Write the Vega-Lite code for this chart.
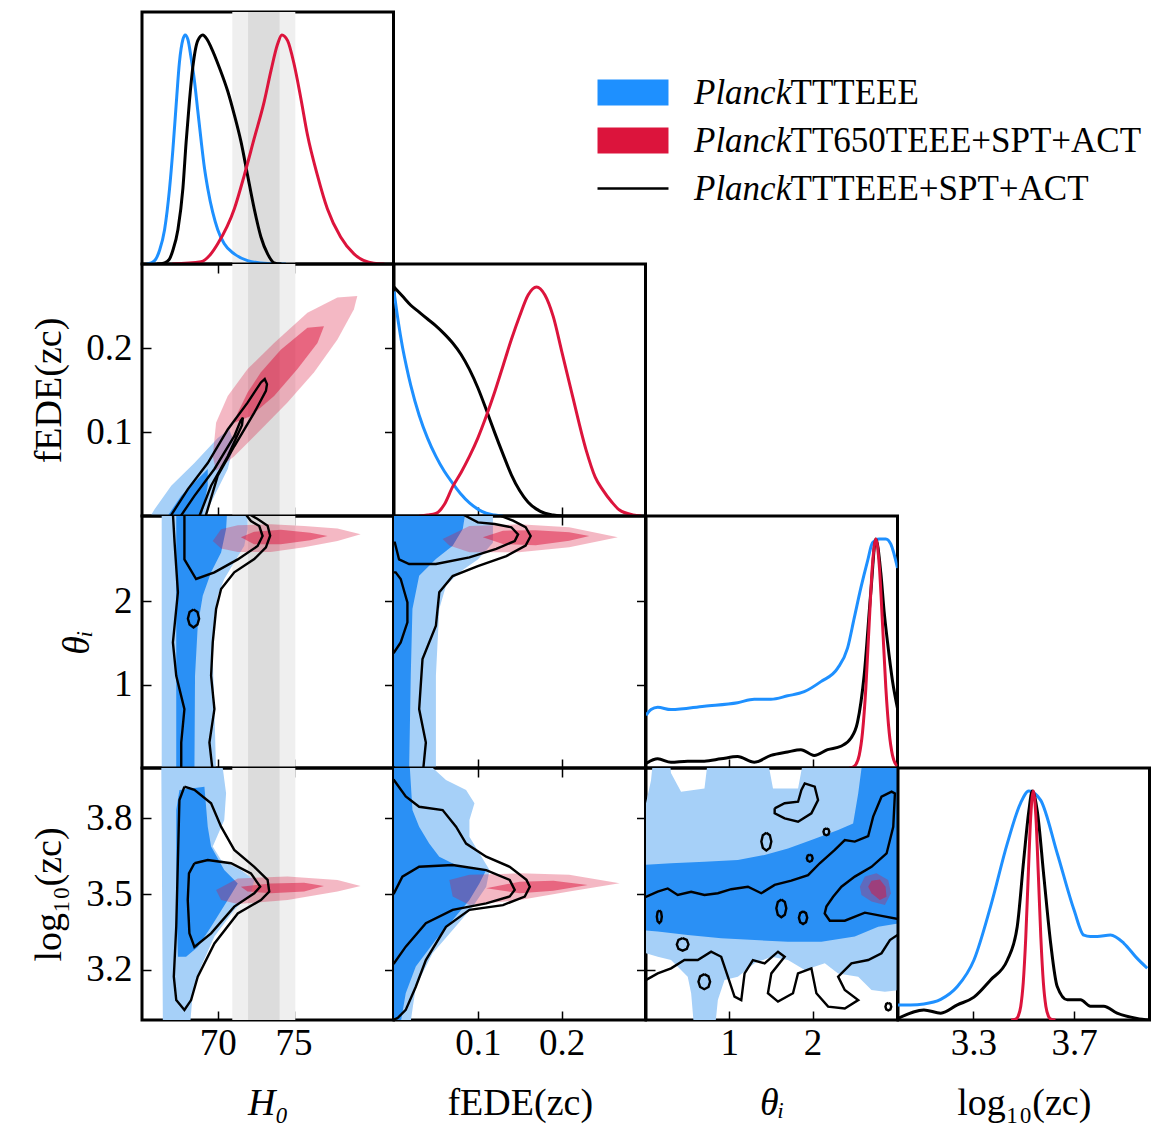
{
"$schema": "https://vega.github.io/schema/vega-lite/v6.json",
"background": "white",
"padding": {"left": 29, "top": 10, "right": 10, "bottom": 4},
"config": {
  "view": {"stroke": "#000000", "strokeWidth": 3},
  "axis": {"domain": false, "grid": false, "tickSize": -9, "tickWidth": 1.5, "tickColor": "#000000", "labelFont": "Liberation Serif", "labelFontSize": 37, "labelColor": "#000000", "labelFlush": false, "labelOverlap": false, "titleFont": "Liberation Serif", "titleFontSize": 38, "titleFontWeight": "normal", "titleColor": "#000000"},
  "axisX": {"labelPadding": 14, "titlePadding": 23},
  "axisY": {"labelPadding": 19, "titlePadding": 17},
  "legend": {"labelFont": "Liberation Serif", "labelColor": "#000000", "labelLimit": 0, "padding": 0}
},
"datasets": {
  "sh0es": [{"lev": "2s", "lo": 70.96, "hi": 75.12}, {"lev": "1s", "lo": 72.0, "hi": 74.08}],
  "leg": [
    {"s": "PlanckTTTEEE", "r": "TTTEEE"},
    {"s": "PlanckTT650TEEE+SPT+ACT", "r": "TT650TEEE+SPT+ACT"},
    {"s": "PlanckTTTEEE+SPT+ACT", "r": "TTTEEE+SPT+ACT"}
  ],
  "H1": [
    {"s":"b","x":65.3,"y":0},{"s":"b","x":65.61,"y":0.005},{"s":"b","x":65.9,"y":0.02},{"s":"b","x":66.16,"y":0.06},{"s":"b","x":66.49,"y":0.15},{"s":"b","x":66.82,"y":0.33},{"s":"b","x":67.04,"y":0.5},{"s":"b","x":67.26,"y":0.7},{"s":"b","x":67.47,"y":0.88},{"s":"b","x":67.7,"y":0.98},{"s":"b","x":67.85,"y":1.0},{"s":"b","x":68.03,"y":0.98},{"s":"b","x":68.24,"y":0.9},{"s":"b","x":68.46,"y":0.8},{"s":"b","x":68.68,"y":0.67},{"s":"b","x":68.9,"y":0.54},{"s":"b","x":69.12,"y":0.42},{"s":"b","x":69.34,"y":0.33},{"s":"b","x":69.67,"y":0.225},{"s":"b","x":70.0,"y":0.15},{"s":"b","x":70.43,"y":0.088},{"s":"b","x":71.09,"y":0.044},{"s":"b","x":71.97,"y":0.015},{"s":"b","x":73.29,"y":0.002},{"s":"b","x":74.5,"y":0},
    {"s":"k","x":66.0,"y":0},{"s":"k","x":66.49,"y":0.005},{"s":"k","x":66.8,"y":0.02},{"s":"k","x":67.04,"y":0.06},{"s":"k","x":67.37,"y":0.15},{"s":"k","x":67.7,"y":0.33},{"s":"k","x":67.91,"y":0.53},{"s":"k","x":68.13,"y":0.71},{"s":"k","x":68.35,"y":0.857},{"s":"k","x":68.68,"y":0.975},{"s":"k","x":69.01,"y":1.0},{"s":"k","x":69.3,"y":0.98},{"s":"k","x":69.56,"y":0.946},{"s":"k","x":70.11,"y":0.857},{"s":"k","x":70.66,"y":0.754},{"s":"k","x":71.09,"y":0.652},{"s":"k","x":71.53,"y":0.535},{"s":"k","x":71.97,"y":0.387},{"s":"k","x":72.41,"y":0.24},{"s":"k","x":72.85,"y":0.118},{"s":"k","x":73.29,"y":0.044},{"s":"k","x":73.72,"y":0.005},{"s":"k","x":74.2,"y":0},
    {"s":"r","x":67.0,"y":0},{"s":"r","x":68.9,"y":0.01},{"s":"r","x":69.5,"y":0.04},{"s":"r","x":70.0,"y":0.088},{"s":"r","x":71.09,"y":0.24},{"s":"r","x":71.75,"y":0.387},{"s":"r","x":72.41,"y":0.549},{"s":"r","x":73.07,"y":0.71},{"s":"r","x":73.51,"y":0.843},{"s":"r","x":73.95,"y":0.96},{"s":"r","x":74.23,"y":1.0},{"s":"r","x":74.61,"y":0.975},{"s":"r","x":75.04,"y":0.872},{"s":"r","x":75.48,"y":0.725},{"s":"r","x":75.92,"y":0.564},{"s":"r","x":76.58,"y":0.387},{"s":"r","x":77.24,"y":0.24},{"s":"r","x":78.11,"y":0.118},{"s":"r","x":78.99,"y":0.044},{"s":"r","x":80.3,"y":0.003},{"s":"r","x":81.0,"y":0}
  ],
  "F1": [
    {"s":"b","x":0,"y":0.98},{"s":"b","x":0.005,"y":0.85},{"s":"b","x":0.01,"y":0.74},{"s":"b","x":0.015,"y":0.65},{"s":"b","x":0.02,"y":0.57},{"s":"b","x":0.03,"y":0.44},{"s":"b","x":0.04,"y":0.34},{"s":"b","x":0.05,"y":0.26},{"s":"b","x":0.06,"y":0.195},{"s":"b","x":0.07,"y":0.143},{"s":"b","x":0.08,"y":0.095},{"s":"b","x":0.09,"y":0.057},{"s":"b","x":0.1,"y":0.03},{"s":"b","x":0.11,"y":0.012},{"s":"b","x":0.12,"y":0.004},{"s":"b","x":0.13,"y":0},
    {"s":"k","x":0,"y":1.0},{"s":"k","x":0.01,"y":0.96},{"s":"k","x":0.02,"y":0.92},{"s":"k","x":0.03,"y":0.89},{"s":"k","x":0.04,"y":0.86},{"s":"k","x":0.05,"y":0.83},{"s":"k","x":0.06,"y":0.795},{"s":"k","x":0.07,"y":0.755},{"s":"k","x":0.08,"y":0.705},{"s":"k","x":0.09,"y":0.64},{"s":"k","x":0.1,"y":0.56},{"s":"k","x":0.11,"y":0.465},{"s":"k","x":0.12,"y":0.365},{"s":"k","x":0.13,"y":0.27},{"s":"k","x":0.14,"y":0.18},{"s":"k","x":0.15,"y":0.11},{"s":"k","x":0.16,"y":0.06},{"s":"k","x":0.17,"y":0.03},{"s":"k","x":0.18,"y":0.012},{"s":"k","x":0.19,"y":0.004},{"s":"k","x":0.2,"y":0},
    {"s":"r","x":0.03,"y":0},{"s":"r","x":0.04,"y":0.004},{"s":"r","x":0.05,"y":0.011},{"s":"r","x":0.06,"y":0.05},{"s":"r","x":0.07,"y":0.128},{"s":"r","x":0.08,"y":0.19},{"s":"r","x":0.09,"y":0.26},{"s":"r","x":0.1,"y":0.34},{"s":"r","x":0.11,"y":0.435},{"s":"r","x":0.12,"y":0.54},{"s":"r","x":0.13,"y":0.655},{"s":"r","x":0.14,"y":0.77},{"s":"r","x":0.15,"y":0.874},{"s":"r","x":0.16,"y":0.965},{"s":"r","x":0.17,"y":1.0},{"s":"r","x":0.18,"y":0.965},{"s":"r","x":0.19,"y":0.87},{"s":"r","x":0.2,"y":0.72},{"s":"r","x":0.213,"y":0.523},{"s":"r","x":0.229,"y":0.29},{"s":"r","x":0.24,"y":0.17},{"s":"r","x":0.249,"y":0.114},{"s":"r","x":0.26,"y":0.06},{"s":"r","x":0.269,"y":0.026},{"s":"r","x":0.285,"y":0.005},{"s":"r","x":0.295,"y":0}
  ],
  "T1": [
    {"s":"b","x":0,"y":0.23},{"s":"b","x":0.06,"y":0.255},{"s":"b","x":0.14,"y":0.265},{"s":"b","x":0.3,"y":0.255},{"s":"b","x":0.7,"y":0.27},{"s":"b","x":1.1,"y":0.285},{"s":"b","x":1.3,"y":0.3},{"s":"b","x":1.5,"y":0.3},{"s":"b","x":1.7,"y":0.315},{"s":"b","x":1.9,"y":0.333},{"s":"b","x":2.1,"y":0.377},{"s":"b","x":2.3,"y":0.435},{"s":"b","x":2.42,"y":0.523},{"s":"b","x":2.5,"y":0.654},{"s":"b","x":2.58,"y":0.786},{"s":"b","x":2.66,"y":0.903},{"s":"b","x":2.72,"y":0.983},{"s":"b","x":2.8,"y":1.0},{"s":"b","x":2.88,"y":1.0},{"s":"b","x":2.94,"y":0.977},{"s":"b","x":3.02,"y":0.873},
    {"s":"k","x":0,"y":0.02},{"s":"k","x":0.14,"y":0.04},{"s":"k","x":0.3,"y":0.025},{"s":"k","x":0.5,"y":0.03},{"s":"k","x":0.7,"y":0.03},{"s":"k","x":0.9,"y":0.04},{"s":"k","x":1.1,"y":0.05},{"s":"k","x":1.3,"y":0.025},{"s":"k","x":1.5,"y":0.055},{"s":"k","x":1.7,"y":0.07},{"s":"k","x":1.86,"y":0.08},{"s":"k","x":2.02,"y":0.055},{"s":"k","x":2.18,"y":0.08},{"s":"k","x":2.34,"y":0.095},{"s":"k","x":2.46,"y":0.13},{"s":"k","x":2.54,"y":0.2},{"s":"k","x":2.62,"y":0.406},{"s":"k","x":2.7,"y":0.77},{"s":"k","x":2.76,"y":1.0},{"s":"k","x":2.82,"y":0.85},{"s":"k","x":2.86,"y":0.68},{"s":"k","x":2.9,"y":0.55},{"s":"k","x":2.96,"y":0.38},{"s":"k","x":3.02,"y":0.26},
    {"s":"r","x":2.44,"y":0},{"s":"r","x":2.48,"y":0.003},{"s":"r","x":2.52,"y":0.015},{"s":"r","x":2.56,"y":0.055},{"s":"r","x":2.6,"y":0.156},{"s":"r","x":2.64,"y":0.35},{"s":"r","x":2.68,"y":0.63},{"s":"r","x":2.72,"y":0.89},{"s":"r","x":2.76,"y":1.0},{"s":"r","x":2.8,"y":0.89},{"s":"r","x":2.84,"y":0.63},{"s":"r","x":2.88,"y":0.35},{"s":"r","x":2.92,"y":0.156},{"s":"r","x":2.96,"y":0.055},{"s":"r","x":3.0,"y":0.015},{"s":"r","x":3.02,"y":0.008}
  ],
  "L1": [
    {"s":"b","x":3.0,"y":0.066},{"s":"b","x":3.05,"y":0.066},{"s":"b","x":3.103,"y":0.07},{"s":"b","x":3.17,"y":0.09},{"s":"b","x":3.236,"y":0.146},{"s":"b","x":3.302,"y":0.262},{"s":"b","x":3.368,"y":0.495},{"s":"b","x":3.435,"y":0.772},{"s":"b","x":3.487,"y":0.946},{"s":"b","x":3.52,"y":1.0},{"s":"b","x":3.567,"y":0.96},{"s":"b","x":3.633,"y":0.728},{"s":"b","x":3.7,"y":0.48},{"s":"b","x":3.739,"y":0.37},{"s":"b","x":3.765,"y":0.364},{"s":"b","x":3.792,"y":0.364},{"s":"b","x":3.845,"y":0.371},{"s":"b","x":3.898,"y":0.335},{"s":"b","x":3.95,"y":0.27},{"s":"b","x":3.991,"y":0.226},
    {"s":"k","x":3.0,"y":0.007},{"s":"k","x":3.103,"y":0.044},{"s":"k","x":3.17,"y":0.03},{"s":"k","x":3.236,"y":0.066},{"s":"k","x":3.302,"y":0.1},{"s":"k","x":3.368,"y":0.175},{"s":"k","x":3.435,"y":0.262},{"s":"k","x":3.474,"y":0.407},{"s":"k","x":3.5,"y":0.7},{"s":"k","x":3.52,"y":0.91},{"s":"k","x":3.534,"y":1.0},{"s":"k","x":3.554,"y":0.91},{"s":"k","x":3.58,"y":0.626},{"s":"k","x":3.607,"y":0.335},{"s":"k","x":3.633,"y":0.146},{"s":"k","x":3.673,"y":0.088},{"s":"k","x":3.726,"y":0.088},{"s":"k","x":3.765,"y":0.06},{"s":"k","x":3.818,"y":0.06},{"s":"k","x":3.871,"y":0.03},{"s":"k","x":3.95,"y":0.007},{"s":"k","x":4.0,"y":0},
    {"s":"r","x":3.45,"y":0},{"s":"r","x":3.468,"y":0.004},{"s":"r","x":3.478,"y":0.017},{"s":"r","x":3.488,"y":0.059},{"s":"r","x":3.498,"y":0.163},{"s":"r","x":3.508,"y":0.36},{"s":"r","x":3.518,"y":0.635},{"s":"r","x":3.528,"y":0.893},{"s":"r","x":3.538,"y":1.0},{"s":"r","x":3.548,"y":0.893},{"s":"r","x":3.558,"y":0.635},{"s":"r","x":3.568,"y":0.36},{"s":"r","x":3.578,"y":0.163},{"s":"r","x":3.588,"y":0.059},{"s":"r","x":3.598,"y":0.017},{"s":"r","x":3.608,"y":0.004},{"s":"r","x":3.626,"y":0}
  ],
  "HF": [
    {"k":"bo","x":65.4,"y":-0.005},{"k":"bo","x":65.83,"y":0.008},{"k":"bo","x":66.93,"y":0.036},{"k":"bo","x":68.46,"y":0.063},{"k":"bo","x":70.0,"y":0.093},{"k":"bo","x":70.76,"y":0.103},{"k":"bo","x":71.09,"y":0.087},{"k":"bo","x":70.66,"y":0.056},{"k":"bo","x":69.78,"y":0.024},{"k":"bo","x":69.0,"y":-0.005},
    {"k":"bi","x":66.5,"y":-0.005},{"k":"bi","x":67.59,"y":0.024},{"k":"bi","x":68.9,"y":0.048},{"k":"bi","x":69.34,"y":0.056},{"k":"bi","x":69.34,"y":0.036},{"k":"bi","x":68.9,"y":-0.005},
    {"k":"ro","x":69.67,"y":0.071},{"k":"ro","x":69.89,"y":0.111},{"k":"ro","x":70.66,"y":0.143},{"k":"ro","x":71.97,"y":0.175},{"k":"ro","x":73.72,"y":0.206},{"k":"ro","x":75.92,"y":0.242},{"k":"ro","x":77.9,"y":0.26},{"k":"ro","x":79.21,"y":0.262},{"k":"ro","x":78.99,"y":0.246},{"k":"ro","x":77.9,"y":0.21},{"k":"ro","x":76.36,"y":0.171},{"k":"ro","x":74.6,"y":0.135},{"k":"ro","x":72.85,"y":0.103},{"k":"ro","x":71.09,"y":0.071},{"k":"ro","x":69.89,"y":0.054},
    {"k":"ri","x":71.09,"y":0.111},{"k":"ri","x":71.32,"y":0.123},{"k":"ri","x":71.97,"y":0.147},{"k":"ri","x":72.85,"y":0.171},{"k":"ri","x":74.16,"y":0.198},{"k":"ri","x":75.92,"y":0.224},{"k":"ri","x":77.01,"y":0.226},{"k":"ri","x":76.58,"y":0.206},{"k":"ri","x":75.26,"y":0.175},{"k":"ri","x":73.72,"y":0.143},{"k":"ri","x":72.19,"y":0.119},
    {"k":"k","id":1,"x":66.71,"y":-0.005},{"k":"k","id":1,"x":68.03,"y":0.032},{"k":"k","id":1,"x":69.34,"y":0.063},{"k":"k","id":1,"x":70.66,"y":0.103},{"k":"k","id":1,"x":71.97,"y":0.135},{"k":"k","id":1,"x":72.85,"y":0.159},{"k":"k","id":1,"x":73.1,"y":0.163},{"k":"k","id":1,"x":73.25,"y":0.157},{"k":"k","id":1,"x":73.18,"y":0.149},{"k":"k","id":1,"x":72.41,"y":0.123},{"k":"k","id":1,"x":71.09,"y":0.083},{"k":"k","id":1,"x":70.0,"y":0.048},{"k":"k","id":1,"x":69.12,"y":-0.005},
    {"k":"k","id":2,"x":67.37,"y":-0.005},{"k":"k","id":2,"x":68.46,"y":0.024},{"k":"k","id":2,"x":69.78,"y":0.056},{"k":"k","id":2,"x":71.09,"y":0.095},{"k":"k","id":2,"x":71.5,"y":0.113},{"k":"k","id":2,"x":71.66,"y":0.117},{"k":"k","id":2,"x":71.6,"y":0.108},{"k":"k","id":2,"x":70.66,"y":0.071},{"k":"k","id":2,"x":69.56,"y":0.036},{"k":"k","id":2,"x":68.68,"y":-0.005}
  ],
  "HT": [
    {"k":"bo","x":66.3,"y":-0.05},{"k":"bo","x":66.3,"y":3.05},{"k":"bo","x":71.97,"y":3.05},{"k":"bo","x":71.97,"y":2.864},{"k":"bo","x":71.75,"y":2.664},{"k":"bo","x":71.2,"y":2.5},{"k":"bo","x":70.43,"y":2.265},{"k":"bo","x":70.0,"y":2.065},{"k":"bo","x":69.78,"y":1.785},{"k":"bo","x":69.67,"y":1.305},{"k":"bo","x":69.78,"y":0.706},{"k":"bo","x":69.89,"y":-0.05},
    {"k":"bi","x":67.26,"y":-0.05},{"k":"bi","x":67.26,"y":3.05},{"k":"bi","x":70.61,"y":3.05},{"k":"bi","x":70.55,"y":2.864},{"k":"bi","x":70.22,"y":2.584},{"k":"bi","x":69.56,"y":2.345},{"k":"bi","x":69.01,"y":2.065},{"k":"bi","x":68.68,"y":1.705},{"k":"bi","x":68.5,"y":1.105},{"k":"bi","x":68.46,"y":-0.05},
    {"k":"ro","x":69.67,"y":2.72},{"k":"ro","x":70.22,"y":2.86},{"k":"ro","x":71.32,"y":2.91},{"k":"ro","x":73.5,"y":2.92},{"k":"ro","x":75.7,"y":2.9},{"k":"ro","x":77.9,"y":2.87},{"k":"ro","x":79.43,"y":2.8},{"k":"ro","x":77.9,"y":2.72},{"k":"ro","x":75.7,"y":2.645},{"k":"ro","x":73.5,"y":2.59},{"k":"ro","x":71.32,"y":2.59},{"k":"ro","x":70.22,"y":2.63},
    {"k":"ri","x":71.53,"y":2.765},{"k":"ri","x":72.4,"y":2.83},{"k":"ri","x":74.16,"y":2.855},{"k":"ri","x":76.1,"y":2.82},{"k":"ri","x":77.24,"y":2.78},{"k":"ri","x":76.1,"y":2.73},{"k":"ri","x":74.16,"y":2.68},{"k":"ri","x":72.4,"y":2.68},
    {"k":"k","id":1,"x":67.04,"y":3.05},{"k":"k","id":1,"x":67.15,"y":2.704},{"k":"k","id":1,"x":67.37,"y":2.105},{"k":"k","id":1,"x":67.04,"y":1.505},{"k":"k","id":1,"x":67.26,"y":1.105},{"k":"k","id":1,"x":67.8,"y":0.706},{"k":"k","id":1,"x":67.59,"y":0.306},{"k":"k","id":1,"x":67.59,"y":-0.05},{"k":"k","id":1,"x":69.67,"y":-0.05},{"k":"k","id":1,"x":69.45,"y":0.306},{"k":"k","id":1,"x":69.78,"y":0.706},{"k":"k","id":1,"x":69.56,"y":1.105},{"k":"k","id":1,"x":69.67,"y":1.505},{"k":"k","id":1,"x":69.89,"y":1.905},{"k":"k","id":1,"x":70.22,"y":2.145},{"k":"k","id":1,"x":71.09,"y":2.345},{"k":"k","id":1,"x":72.41,"y":2.504},{"k":"k","id":1,"x":73.18,"y":2.644},{"k":"k","id":1,"x":73.46,"y":2.784},{"k":"k","id":1,"x":73.29,"y":2.904},{"k":"k","id":1,"x":72.63,"y":2.984},{"k":"k","id":1,"x":72.0,"y":3.05},
    {"k":"k","id":2,"x":67.8,"y":3.05},{"k":"k","id":2,"x":67.8,"y":2.5},{"k":"k","id":2,"x":68.57,"y":2.265},{"k":"k","id":2,"x":69.78,"y":2.345},{"k":"k","id":2,"x":71.32,"y":2.5},{"k":"k","id":2,"x":72.63,"y":2.66},{"k":"k","id":2,"x":72.96,"y":2.78},{"k":"k","id":2,"x":72.74,"y":2.9},{"k":"k","id":2,"x":72.19,"y":2.96},{"k":"k","id":2,"x":71.8,"y":3.05},
    {"k":"k","id":3,"x":68.4,"y":1.9},{"k":"k","id":3,"x":68.66,"y":1.87},{"k":"k","id":3,"x":68.77,"y":1.79},{"k":"k","id":3,"x":68.66,"y":1.72},{"k":"k","id":3,"x":68.4,"y":1.685},{"k":"k","id":3,"x":68.14,"y":1.72},{"k":"k","id":3,"x":68.03,"y":1.79},{"k":"k","id":3,"x":68.14,"y":1.87},{"k":"k","id":3,"x":68.4,"y":1.9}
  ],
  "FT": [
    {"k":"bo","x":-0.01,"y":-0.05},{"k":"bo","x":0.05,"y":-0.05},{"k":"bo","x":0.05,"y":1.11},{"k":"bo","x":0.054,"y":1.905},{"k":"bo","x":0.062,"y":2.184},{"k":"bo","x":0.078,"y":2.345},{"k":"bo","x":0.1,"y":2.5},{"k":"bo","x":0.118,"y":2.7},{"k":"bo","x":0.118,"y":3.05},{"k":"bo","x":-0.01,"y":3.05},
    {"k":"bi","x":-0.01,"y":-0.05},{"k":"bi","x":0.018,"y":-0.05},{"k":"bi","x":0.02,"y":1.11},{"k":"bi","x":0.022,"y":1.905},{"k":"bi","x":0.03,"y":2.304},{"k":"bi","x":0.05,"y":2.504},{"k":"bi","x":0.07,"y":2.664},{"k":"bi","x":0.082,"y":2.864},{"k":"bi","x":0.085,"y":3.05},{"k":"bi","x":-0.01,"y":3.05},
    {"k":"ro","x":0.058,"y":2.745},{"k":"ro","x":0.09,"y":2.9},{"k":"ro","x":0.149,"y":2.92},{"k":"ro","x":0.209,"y":2.885},{"k":"ro","x":0.267,"y":2.765},{"k":"ro","x":0.209,"y":2.645},{"k":"ro","x":0.149,"y":2.585},{"k":"ro","x":0.09,"y":2.585},{"k":"ro","x":0.066,"y":2.665},
    {"k":"ri","x":0.106,"y":2.765},{"k":"ri","x":0.13,"y":2.844},{"k":"ri","x":0.169,"y":2.85},{"k":"ri","x":0.209,"y":2.825},{"k":"ri","x":0.233,"y":2.78},{"k":"ri","x":0.209,"y":2.724},{"k":"ri","x":0.169,"y":2.67},{"k":"ri","x":0.13,"y":2.685},
    {"k":"k","id":1,"x":0.03,"y":-0.05},{"k":"k","id":1,"x":0.035,"y":0.0},{"k":"k","id":1,"x":0.038,"y":0.306},{"k":"k","id":1,"x":0.03,"y":0.706},{"k":"k","id":1,"x":0.034,"y":1.305},{"k":"k","id":1,"x":0.05,"y":1.705},{"k":"k","id":1,"x":0.054,"y":2.105},{"k":"k","id":1,"x":0.07,"y":2.3},{"k":"k","id":1,"x":0.1,"y":2.42},{"k":"k","id":1,"x":0.134,"y":2.54},{"k":"k","id":1,"x":0.157,"y":2.665},{"k":"k","id":1,"x":0.163,"y":2.78},{"k":"k","id":1,"x":0.157,"y":2.885},{"k":"k","id":1,"x":0.142,"y":2.964},{"k":"k","id":1,"x":0.12,"y":3.05},
    {"k":"k","id":2,"x":-0.01,"y":2.7},{"k":"k","id":2,"x":0.001,"y":2.7},{"k":"k","id":2,"x":0.006,"y":2.5},{"k":"k","id":2,"x":0.018,"y":2.445},{"k":"k","id":2,"x":0.05,"y":2.445},{"k":"k","id":2,"x":0.09,"y":2.525},{"k":"k","id":2,"x":0.122,"y":2.625},{"k":"k","id":2,"x":0.144,"y":2.72},{"k":"k","id":2,"x":0.148,"y":2.8},{"k":"k","id":2,"x":0.14,"y":2.885},{"k":"k","id":2,"x":0.12,"y":2.924},{"k":"k","id":2,"x":0.1,"y":2.944},{"k":"k","id":2,"x":0.08,"y":3.05},
    {"k":"k","id":3,"x":-0.01,"y":2.345},{"k":"k","id":3,"x":0.002,"y":2.345},{"k":"k","id":3,"x":0.008,"y":2.265},{"k":"k","id":3,"x":0.016,"y":1.985},{"k":"k","id":3,"x":0.016,"y":1.745},{"k":"k","id":3,"x":0.008,"y":1.505},{"k":"k","id":3,"x":0.0,"y":1.385},{"k":"k","id":3,"x":-0.01,"y":1.385}
  ],
  "HL": [
    {"k":"bo","x":66.38,"y":2.95},{"k":"bo","x":66.27,"y":4.05},{"k":"bo","x":70.22,"y":4.05},{"k":"bo","x":70.55,"y":3.9},{"k":"bo","x":70.43,"y":3.794},{"k":"bo","x":69.67,"y":3.688},{"k":"bo","x":70.22,"y":3.635},{"k":"bo","x":71.53,"y":3.595},{"k":"bo","x":72.41,"y":3.556},{"k":"bo","x":72.19,"y":3.503},{"k":"bo","x":71.09,"y":3.437},{"k":"bo","x":69.78,"y":3.331},{"k":"bo","x":68.9,"y":3.212},{"k":"bo","x":68.35,"y":3.106},{"k":"bo","x":68.13,"y":2.95},
    {"k":"bi","x":67.47,"y":3.913},{"k":"bi","x":69.12,"y":3.926},{"k":"bi","x":69.34,"y":3.767},{"k":"bi","x":69.56,"y":3.688},{"k":"bi","x":70.43,"y":3.595},{"k":"bi","x":71.32,"y":3.542},{"k":"bi","x":70.66,"y":3.476},{"k":"bi","x":69.56,"y":3.37},{"k":"bi","x":68.68,"y":3.29},{"k":"bi","x":67.91,"y":3.251},{"k":"bi","x":67.37,"y":3.251},{"k":"bi","x":67.26,"y":3.503},{"k":"bi","x":67.26,"y":3.833},
    {"k":"ro","x":69.89,"y":3.516},{"k":"ro","x":71.32,"y":3.562},{"k":"ro","x":74.6,"y":3.569},{"k":"ro","x":77.9,"y":3.556},{"k":"ro","x":79.43,"y":3.532},{"k":"ro","x":77.9,"y":3.51},{"k":"ro","x":74.6,"y":3.476},{"k":"ro","x":71.32,"y":3.46},{"k":"ro","x":70.22,"y":3.476},
    {"k":"ri","x":71.53,"y":3.529},{"k":"ri","x":73.5,"y":3.542},{"k":"ri","x":75.7,"y":3.545},{"k":"ri","x":77.01,"y":3.532},{"k":"ri","x":75.7,"y":3.51},{"k":"ri","x":73.5,"y":3.503},{"k":"ri","x":71.97,"y":3.51},
    {"k":"k","id":1,"x":67.8,"y":3.926},{"k":"k","id":1,"x":68.46,"y":3.913},{"k":"k","id":1,"x":69.56,"y":3.86},{"k":"k","id":1,"x":70.22,"y":3.767},{"k":"k","id":1,"x":71.09,"y":3.675},{"k":"k","id":1,"x":72.41,"y":3.608},{"k":"k","id":1,"x":73.29,"y":3.556},{"k":"k","id":1,"x":73.4,"y":3.51},{"k":"k","id":1,"x":72.85,"y":3.476},{"k":"k","id":1,"x":71.32,"y":3.423},{"k":"k","id":1,"x":69.78,"y":3.304},{"k":"k","id":1,"x":68.68,"y":3.172},{"k":"k","id":1,"x":68.24,"y":3.079},{"k":"k","id":1,"x":67.8,"y":3.04},{"k":"k","id":1,"x":67.26,"y":3.079},{"k":"k","id":1,"x":67.1,"y":3.172},{"k":"k","id":1,"x":67.26,"y":3.37},{"k":"k","id":1,"x":67.37,"y":3.635},{"k":"k","id":1,"x":67.47,"y":3.873},{"k":"k","id":1,"x":67.8,"y":3.926},
    {"k":"k","id":2,"x":68.46,"y":3.622},{"k":"k","id":2,"x":69.34,"y":3.635},{"k":"k","id":2,"x":70.88,"y":3.622},{"k":"k","id":2,"x":72.19,"y":3.582},{"k":"k","id":2,"x":72.8,"y":3.529},{"k":"k","id":2,"x":72.41,"y":3.503},{"k":"k","id":2,"x":71.09,"y":3.45},{"k":"k","id":2,"x":69.56,"y":3.344},{"k":"k","id":2,"x":68.46,"y":3.29},{"k":"k","id":2,"x":68.13,"y":3.344},{"k":"k","id":2,"x":68.02,"y":3.476},{"k":"k","id":2,"x":68.1,"y":3.582},{"k":"k","id":2,"x":68.46,"y":3.622}
  ],
  "FL": [
    {"k":"bo","x":-0.01,"y":2.95},{"k":"bo","x":0.018,"y":2.95},{"k":"bo","x":0.026,"y":3.132},{"k":"bo","x":0.046,"y":3.265},{"k":"bo","x":0.07,"y":3.357},{"k":"bo","x":0.094,"y":3.45},{"k":"bo","x":0.11,"y":3.529},{"k":"bo","x":0.114,"y":3.595},{"k":"bo","x":0.102,"y":3.661},{"k":"bo","x":0.09,"y":3.727},{"k":"bo","x":0.09,"y":3.794},{"k":"bo","x":0.096,"y":3.86},{"k":"bo","x":0.086,"y":3.913},{"k":"bo","x":0.062,"y":3.952},{"k":"bo","x":0.03,"y":4.05},{"k":"bo","x":-0.01,"y":4.05},
    {"k":"bi","x":-0.01,"y":2.95},{"k":"bi","x":0.006,"y":2.95},{"k":"bi","x":0.014,"y":3.106},{"k":"bi","x":0.026,"y":3.212},{"k":"bi","x":0.05,"y":3.318},{"k":"bi","x":0.07,"y":3.397},{"k":"bi","x":0.09,"y":3.476},{"k":"bi","x":0.102,"y":3.543},{"k":"bi","x":0.11,"y":3.595},{"k":"bi","x":0.078,"y":3.608},{"k":"bi","x":0.054,"y":3.648},{"k":"bi","x":0.042,"y":3.7},{"k":"bi","x":0.03,"y":3.767},{"k":"bi","x":0.022,"y":3.833},{"k":"bi","x":0.018,"y":4.05},{"k":"bi","x":-0.01,"y":4.05},
    {"k":"ro","x":0.066,"y":3.556},{"k":"ro","x":0.09,"y":3.576},{"k":"ro","x":0.15,"y":3.582},{"k":"ro","x":0.209,"y":3.576},{"k":"ro","x":0.269,"y":3.543},{"k":"ro","x":0.209,"y":3.51},{"k":"ro","x":0.15,"y":3.476},{"k":"ro","x":0.09,"y":3.456},{"k":"ro","x":0.07,"y":3.49},
    {"k":"ri","x":0.11,"y":3.523},{"k":"ri","x":0.15,"y":3.549},{"k":"ri","x":0.19,"y":3.553},{"k":"ri","x":0.231,"y":3.536},{"k":"ri","x":0.19,"y":3.513},{"k":"ri","x":0.15,"y":3.503},
    {"k":"k","id":1,"x":-0.01,"y":3.96},{"k":"k","id":1,"x":0.0,"y":3.952},{"k":"k","id":1,"x":0.014,"y":3.887},{"k":"k","id":1,"x":0.03,"y":3.846},{"k":"k","id":1,"x":0.058,"y":3.833},{"k":"k","id":1,"x":0.074,"y":3.767},{"k":"k","id":1,"x":0.086,"y":3.7},{"k":"k","id":1,"x":0.11,"y":3.648},{"k":"k","id":1,"x":0.138,"y":3.608},{"k":"k","id":1,"x":0.158,"y":3.556},{"k":"k","id":1,"x":0.162,"y":3.529},{"k":"k","id":1,"x":0.156,"y":3.49},{"k":"k","id":1,"x":0.13,"y":3.456},{"k":"k","id":1,"x":0.09,"y":3.437},{"k":"k","id":1,"x":0.062,"y":3.37},{"k":"k","id":1,"x":0.038,"y":3.238},{"k":"k","id":1,"x":0.026,"y":3.132},{"k":"k","id":1,"x":0.014,"y":3.04},{"k":"k","id":1,"x":0.004,"y":3.007},{"k":"k","id":1,"x":-0.01,"y":2.99},
    {"k":"k","id":2,"x":-0.01,"y":3.503},{"k":"k","id":2,"x":0.0,"y":3.503},{"k":"k","id":2,"x":0.01,"y":3.569},{"k":"k","id":2,"x":0.03,"y":3.608},{"k":"k","id":2,"x":0.07,"y":3.615},{"k":"k","id":2,"x":0.11,"y":3.595},{"k":"k","id":2,"x":0.138,"y":3.556},{"k":"k","id":2,"x":0.144,"y":3.516},{"k":"k","id":2,"x":0.138,"y":3.49},{"k":"k","id":2,"x":0.11,"y":3.463},{"k":"k","id":2,"x":0.07,"y":3.437},{"k":"k","id":2,"x":0.038,"y":3.384},{"k":"k","id":2,"x":0.014,"y":3.291},{"k":"k","id":2,"x":0.0,"y":3.225},{"k":"k","id":2,"x":-0.01,"y":3.22}
  ],
  "TL": [
    {"k":"bo","x":-0.05,"y":3.86},{"k":"bo","x":0.0,"y":3.86},{"k":"bo","x":0.06,"y":3.95},{"k":"bo","x":0.09,"y":4.05},{"k":"bo","x":0.28,"y":4.05},{"k":"bo","x":0.3,"y":3.98},{"k":"bo","x":0.421,"y":3.906},{"k":"bo","x":0.702,"y":3.919},{"k":"bo","x":0.75,"y":4.05},{"k":"bo","x":1.45,"y":4.05},{"k":"bo","x":1.525,"y":3.919},{"k":"bo","x":1.826,"y":3.919},{"k":"bo","x":1.9,"y":4.05},{"k":"bo","x":3.05,"y":4.05},{"k":"bo","x":3.05,"y":3.119},{"k":"bo","x":2.868,"y":3.112},{"k":"bo","x":2.708,"y":3.119},{"k":"bo","x":2.548,"y":3.172},{"k":"bo","x":2.307,"y":3.185},{"k":"bo","x":2.147,"y":3.225},{"k":"bo","x":1.906,"y":3.198},{"k":"bo","x":1.705,"y":3.238},{"k":"bo","x":1.505,"y":3.251},{"k":"bo","x":1.304,"y":3.225},{"k":"bo","x":1.103,"y":3.172},{"k":"bo","x":0.943,"y":3.159},{"k":"bo","x":0.863,"y":3.079},{"k":"bo","x":0.823,"y":2.95},{"k":"bo","x":0.582,"y":2.95},{"k":"bo","x":0.542,"y":3.106},{"k":"bo","x":0.501,"y":3.172},{"k":"bo","x":0.301,"y":3.238},{"k":"bo","x":0.141,"y":3.251},{"k":"bo","x":0.0,"y":3.265},{"k":"bo","x":-0.05,"y":3.265},
    {"k":"bi","x":-0.05,"y":3.615},{"k":"bi","x":0.301,"y":3.622},{"k":"bi","x":0.702,"y":3.628},{"k":"bi","x":1.103,"y":3.635},{"k":"bi","x":1.424,"y":3.655},{"k":"bi","x":1.705,"y":3.681},{"k":"bi","x":1.986,"y":3.714},{"k":"bi","x":2.307,"y":3.754},{"k":"bi","x":2.487,"y":3.78},{"k":"bi","x":2.548,"y":3.899},{"k":"bi","x":2.608,"y":4.05},{"k":"bi","x":3.05,"y":4.05},{"k":"bi","x":3.05,"y":3.384},{"k":"bi","x":2.788,"y":3.37},{"k":"bi","x":2.507,"y":3.331},{"k":"bi","x":2.106,"y":3.311},{"k":"bi","x":1.705,"y":3.311},{"k":"bi","x":1.304,"y":3.317},{"k":"bi","x":0.903,"y":3.324},{"k":"bi","x":0.501,"y":3.337},{"k":"bi","x":0.141,"y":3.351},{"k":"bi","x":-0.05,"y":3.357},
    {"k":"ro","x":2.568,"y":3.529},{"k":"ro","x":2.628,"y":3.569},{"k":"ro","x":2.768,"y":3.582},{"k":"ro","x":2.909,"y":3.556},{"k":"ro","x":2.941,"y":3.503},{"k":"ro","x":2.869,"y":3.456},{"k":"ro","x":2.708,"y":3.47},{"k":"ro","x":2.588,"y":3.496},
    {"k":"ri","x":2.668,"y":3.529},{"k":"ri","x":2.708,"y":3.553},{"k":"ri","x":2.808,"y":3.558},{"k":"ri","x":2.876,"y":3.529},{"k":"ri","x":2.888,"y":3.489},{"k":"ri","x":2.808,"y":3.476},{"k":"ri","x":2.708,"y":3.503},
    {"k":"k","id":1,"x":-0.05,"y":3.489},{"k":"k","id":1,"x":0.0,"y":3.489},{"k":"k","id":1,"x":0.14,"y":3.509},{"k":"k","id":1,"x":0.261,"y":3.522},{"k":"k","id":1,"x":0.381,"y":3.496},{"k":"k","id":1,"x":0.542,"y":3.509},{"k":"k","id":1,"x":0.702,"y":3.496},{"k":"k","id":1,"x":0.863,"y":3.503},{"k":"k","id":1,"x":1.023,"y":3.519},{"k":"k","id":1,"x":1.224,"y":3.529},{"k":"k","id":1,"x":1.384,"y":3.503},{"k":"k","id":1,"x":1.545,"y":3.536},{"k":"k","id":1,"x":1.745,"y":3.553},{"k":"k","id":1,"x":1.946,"y":3.575},{"k":"k","id":1,"x":2.086,"y":3.622},{"k":"k","id":1,"x":2.267,"y":3.675},{"k":"k","id":1,"x":2.387,"y":3.714},{"k":"k","id":1,"x":2.507,"y":3.708},{"k":"k","id":1,"x":2.668,"y":3.73},{"k":"k","id":1,"x":2.728,"y":3.807},{"k":"k","id":1,"x":2.828,"y":3.886},{"k":"k","id":1,"x":2.949,"y":3.906},{"k":"k","id":1,"x":2.989,"y":3.899},{"k":"k","id":1,"x":2.969,"y":3.767},{"k":"k","id":1,"x":2.889,"y":3.661},{"k":"k","id":1,"x":2.708,"y":3.608},{"k":"k","id":1,"x":2.507,"y":3.569},{"k":"k","id":1,"x":2.347,"y":3.529},{"k":"k","id":1,"x":2.247,"y":3.489},{"k":"k","id":1,"x":2.166,"y":3.45},{"k":"k","id":1,"x":2.146,"y":3.423},{"k":"k","id":1,"x":2.207,"y":3.394},{"k":"k","id":1,"x":2.387,"y":3.394},{"k":"k","id":1,"x":2.628,"y":3.426},{"k":"k","id":1,"x":2.828,"y":3.413},{"k":"k","id":1,"x":3.05,"y":3.399},
    {"k":"k","id":2,"x":-0.05,"y":3.159},{"k":"k","id":2,"x":0.0,"y":3.159},{"k":"k","id":2,"x":0.141,"y":3.185},{"k":"k","id":2,"x":0.301,"y":3.205},{"k":"k","id":2,"x":0.461,"y":3.238},{"k":"k","id":2,"x":0.622,"y":3.238},{"k":"k","id":2,"x":0.782,"y":3.271},{"k":"k","id":2,"x":0.903,"y":3.251},{"k":"k","id":2,"x":0.983,"y":3.172},{"k":"k","id":2,"x":1.063,"y":3.093},{"k":"k","id":2,"x":1.144,"y":3.079},{"k":"k","id":2,"x":1.184,"y":3.185},{"k":"k","id":2,"x":1.284,"y":3.238},{"k":"k","id":2,"x":1.424,"y":3.225},{"k":"k","id":2,"x":1.585,"y":3.271},{"k":"k","id":2,"x":1.665,"y":3.251},{"k":"k","id":2,"x":1.505,"y":3.185},{"k":"k","id":2,"x":1.464,"y":3.106},{"k":"k","id":2,"x":1.585,"y":3.073},{"k":"k","id":2,"x":1.765,"y":3.106},{"k":"k","id":2,"x":1.825,"y":3.185},{"k":"k","id":2,"x":1.986,"y":3.205},{"k":"k","id":2,"x":2.046,"y":3.106},{"k":"k","id":2,"x":2.187,"y":3.053},{"k":"k","id":2,"x":2.387,"y":3.046},{"k":"k","id":2,"x":2.548,"y":3.079},{"k":"k","id":2,"x":2.387,"y":3.119},{"k":"k","id":2,"x":2.307,"y":3.172},{"k":"k","id":2,"x":2.467,"y":3.225},{"k":"k","id":2,"x":2.668,"y":3.238},{"k":"k","id":2,"x":2.828,"y":3.265},{"k":"k","id":2,"x":2.929,"y":3.317},{"k":"k","id":2,"x":3.05,"y":3.344},
    {"k":"k","id":3,"x":1.545,"y":3.84},{"k":"k","id":3,"x":1.665,"y":3.86},{"k":"k","id":3,"x":1.826,"y":3.866},{"k":"k","id":3,"x":1.866,"y":3.913},{"k":"k","id":3,"x":1.906,"y":3.939},{"k":"k","id":3,"x":2.026,"y":3.926},{"k":"k","id":3,"x":2.066,"y":3.873},{"k":"k","id":3,"x":1.986,"y":3.82},{"k":"k","id":3,"x":1.826,"y":3.787},{"k":"k","id":3,"x":1.665,"y":3.8},{"k":"k","id":3,"x":1.545,"y":3.82},{"k":"k","id":3,"x":1.545,"y":3.84},
    {"k":"k","id":4,"x":1.445,"y":3.743},{"k":"k","id":4,"x":1.487,"y":3.733},{"k":"k","id":4,"x":1.505,"y":3.708},{"k":"k","id":4,"x":1.487,"y":3.683},{"k":"k","id":4,"x":1.445,"y":3.673},{"k":"k","id":4,"x":1.403,"y":3.683},{"k":"k","id":4,"x":1.385,"y":3.708},{"k":"k","id":4,"x":1.403,"y":3.733},{"k":"k","id":4,"x":1.445,"y":3.743},
    {"k":"k","id":5,"x":1.625,"y":3.478},{"k":"k","id":5,"x":1.667,"y":3.468},{"k":"k","id":5,"x":1.685,"y":3.443},{"k":"k","id":5,"x":1.667,"y":3.418},{"k":"k","id":5,"x":1.625,"y":3.408},{"k":"k","id":5,"x":1.583,"y":3.418},{"k":"k","id":5,"x":1.565,"y":3.443},{"k":"k","id":5,"x":1.583,"y":3.468},{"k":"k","id":5,"x":1.625,"y":3.478},
    {"k":"k","id":6,"x":1.886,"y":3.431},{"k":"k","id":6,"x":1.921,"y":3.424},{"k":"k","id":6,"x":1.936,"y":3.406},{"k":"k","id":6,"x":1.921,"y":3.388},{"k":"k","id":6,"x":1.886,"y":3.381},{"k":"k","id":6,"x":1.851,"y":3.388},{"k":"k","id":6,"x":1.836,"y":3.406},{"k":"k","id":6,"x":1.851,"y":3.424},{"k":"k","id":6,"x":1.886,"y":3.431},
    {"k":"k","id":7,"x":0.16,"y":3.435},{"k":"k","id":7,"x":0.181,"y":3.428},{"k":"k","id":7,"x":0.19,"y":3.41},{"k":"k","id":7,"x":0.181,"y":3.392},{"k":"k","id":7,"x":0.16,"y":3.385},{"k":"k","id":7,"x":0.139,"y":3.392},{"k":"k","id":7,"x":0.13,"y":3.41},{"k":"k","id":7,"x":0.139,"y":3.428},{"k":"k","id":7,"x":0.16,"y":3.435},
    {"k":"k","id":8,"x":0.44,"y":3.325},{"k":"k","id":8,"x":0.49,"y":3.318},{"k":"k","id":8,"x":0.51,"y":3.3},{"k":"k","id":8,"x":0.49,"y":3.282},{"k":"k","id":8,"x":0.44,"y":3.275},{"k":"k","id":8,"x":0.39,"y":3.282},{"k":"k","id":8,"x":0.37,"y":3.3},{"k":"k","id":8,"x":0.39,"y":3.318},{"k":"k","id":8,"x":0.44,"y":3.325},
    {"k":"k","id":9,"x":0.7,"y":3.182},{"k":"k","id":9,"x":0.75,"y":3.173},{"k":"k","id":9,"x":0.77,"y":3.152},{"k":"k","id":9,"x":0.75,"y":3.131},{"k":"k","id":9,"x":0.7,"y":3.122},{"k":"k","id":9,"x":0.65,"y":3.131},{"k":"k","id":9,"x":0.63,"y":3.152},{"k":"k","id":9,"x":0.65,"y":3.173},{"k":"k","id":9,"x":0.7,"y":3.182},
    {"k":"k","id":10,"x":1.966,"y":3.656},{"k":"k","id":10,"x":1.991,"y":3.652},{"k":"k","id":10,"x":2.001,"y":3.642},{"k":"k","id":10,"x":1.991,"y":3.632},{"k":"k","id":10,"x":1.966,"y":3.628},{"k":"k","id":10,"x":1.941,"y":3.632},{"k":"k","id":10,"x":1.931,"y":3.642},{"k":"k","id":10,"x":1.941,"y":3.652},{"k":"k","id":10,"x":1.966,"y":3.656},
    {"k":"k","id":11,"x":2.166,"y":3.761},{"k":"k","id":11,"x":2.191,"y":3.757},{"k":"k","id":11,"x":2.201,"y":3.747},{"k":"k","id":11,"x":2.191,"y":3.737},{"k":"k","id":11,"x":2.166,"y":3.733},{"k":"k","id":11,"x":2.141,"y":3.737},{"k":"k","id":11,"x":2.131,"y":3.747},{"k":"k","id":11,"x":2.141,"y":3.757},{"k":"k","id":11,"x":2.166,"y":3.761},
    {"k":"k","id":12,"x":2.91,"y":3.068},{"k":"k","id":12,"x":2.935,"y":3.064},{"k":"k","id":12,"x":2.945,"y":3.053},{"k":"k","id":12,"x":2.935,"y":3.042},{"k":"k","id":12,"x":2.91,"y":3.038},{"k":"k","id":12,"x":2.885,"y":3.042},{"k":"k","id":12,"x":2.875,"y":3.053},{"k":"k","id":12,"x":2.885,"y":3.064},{"k":"k","id":12,"x":2.91,"y":3.068}
  ]
},
"columns": 4,
"spacing": 0,
"bounds": "flush",
"concat": [
  {
    "width": 251.5, "height": 252,
    "layer": [
      {"data": {"name": "sh0es"}, "mark": {"type": "rect"},
       "encoding": {"x": {"field": "lo", "type": "quantitative", "scale": {"domain": [65, 81.6], "nice": false, "zero": false}, "axis": null}, "x2": {"field": "hi"},
                    "fill": {"field": "lev", "type": "nominal", "scale": {"domain": ["2s", "1s"], "range": ["#efefef", "#dcdcdc"]}, "legend": null}}},
      {"data": {"name": "H1"}, "mark": {"type": "line", "strokeWidth": 3, "interpolate": "monotone", "clip": true},
       "encoding": {"x": {"field": "x", "type": "quantitative", "scale": {"domain": [65, 81.6], "nice": false, "zero": false}, "axis": {"orient": "bottom", "values": [70, 75], "labels": false, "title": null}},
                    "y": {"field": "y", "type": "quantitative", "scale": {"domain": [0, 1.1], "nice": false, "zero": false}, "axis": null},
                    "stroke": {"field": "s", "type": "nominal", "scale": {"domain": ["b", "r", "k"], "range": ["#1e90ff", "#dc143c", "#000000"]}, "legend": null},
                    "order": {"value": null}}},
      {"data": {"name": "leg"}, "mark": {"type": "point", "filled": true, "opacity": 0},
       "encoding": {
         "color": {"field": "s", "type": "nominal",
                   "scale": {"domain": ["PlanckTTTEEE", "PlanckTT650TEEE+SPT+ACT", "PlanckTTTEEE+SPT+ACT"], "range": ["#1e90ff", "#dc143c", "#000000"]},
                   "legend": {"orient": "none", "legendX": 473.5, "legendY": 63, "title": null, "symbolType": "M-2.73,-1H2.73V1H-2.73Z", "symbolSize": 676, "symbolStrokeWidth": 0, "symbolOpacity": 1,
                              "labelExpr": "'Planck'", "labelFontStyle": "italic", "labelFontSize": 35, "labelOffset": 43.5, "rowPadding": 12,
                              "encode": {"symbols": {"update": {"opacity": {"value": 1}, "shape": {"signal": "datum.value === 'PlanckTTTEEE+SPT+ACT' ? 'M-2.73,-0.1H2.73V0.1H-2.73Z' : 'M-2.73,-1H2.73V1H-2.73Z'"}}}}}},
         "shape": {"field": "r", "type": "nominal", "scale": {"domain": ["TTTEEE", "TT650TEEE+SPT+ACT", "TTTEEE+SPT+ACT"]},
                   "legend": {"orient": "none", "legendX": 473.5, "legendY": 63, "title": null, "symbolSize": 676, "symbolOpacity": 0, "symbolStrokeWidth": 0,
                              "labelFontSize": 35, "labelOffset": 140, "rowPadding": 12}}
       }}
    ]
  },
  {"width": 251.5, "height": 252, "data": {"name": "leg"}, "mark": {"type": "point", "opacity": 0}, "view": {"stroke": null}},
  {"width": 251.5, "height": 252, "data": {"name": "leg"}, "mark": {"type": "point", "opacity": 0}, "view": {"stroke": null}},
  {"width": 251.5, "height": 252, "data": {"name": "leg"}, "mark": {"type": "point", "opacity": 0}, "view": {"stroke": null}},
  {
    "width": 251.5, "height": 252,
    "resolve": {"axis": {"x": "independent", "y": "independent"}},
    "layer": [
      {"data": {"name": "sh0es"}, "mark": {"type": "rect"},
       "encoding": {"x": {"field": "lo", "type": "quantitative", "scale": {"domain": [65, 81.6], "nice": false, "zero": false}, "axis": null}, "x2": {"field": "hi"},
                    "fill": {"field": "lev", "type": "nominal", "scale": {"domain": ["2s", "1s"], "range": ["#efefef", "#dcdcdc"]}, "legend": null}}},
      {"data": {"name": "HF"}, "transform": [{"filter": "datum.k == 'bo'"}], "mark": {"type": "line", "fill": "#a6d0f8", "strokeWidth": 0, "clip": true},
       "encoding": {"x": {"field": "x", "type": "quantitative", "scale": {"domain": [65, 81.6], "nice": false, "zero": false}, "axis": {"orient": "bottom", "values": [70, 75], "labels": false, "title": null}},
                    "y": {"field": "y", "type": "quantitative", "scale": {"domain": [0, 0.3], "nice": false, "zero": false}, "axis": {"orient": "left", "values": [0.1, 0.2], "title": "fEDE(zc)"}},
                    "order": {"value": null}}},
      {"data": {"name": "HF"}, "transform": [{"filter": "datum.k == 'bi'"}], "mark": {"type": "line", "fill": "#2a90f5", "strokeWidth": 0, "clip": true},
       "encoding": {"x": {"field": "x", "type": "quantitative", "scale": {"domain": [65, 81.6], "nice": false, "zero": false}, "axis": null},
                    "y": {"field": "y", "type": "quantitative", "scale": {"domain": [0, 0.3], "nice": false, "zero": false}, "axis": null}, "order": {"value": null}}},
      {"data": {"name": "HF"}, "transform": [{"filter": "datum.k == 'ro'"}], "mark": {"type": "line", "fill": "#dc143c", "fillOpacity": 0.3, "strokeWidth": 0, "clip": true},
       "encoding": {"x": {"field": "x", "type": "quantitative", "scale": {"domain": [65, 81.6], "nice": false, "zero": false}, "axis": null},
                    "y": {"field": "y", "type": "quantitative", "scale": {"domain": [0, 0.3], "nice": false, "zero": false}, "axis": null}, "order": {"value": null}}},
      {"data": {"name": "HF"}, "transform": [{"filter": "datum.k == 'ri'"}], "mark": {"type": "line", "fill": "#dc143c", "fillOpacity": 0.5, "strokeWidth": 0, "clip": true},
       "encoding": {"x": {"field": "x", "type": "quantitative", "scale": {"domain": [65, 81.6], "nice": false, "zero": false}, "axis": null},
                    "y": {"field": "y", "type": "quantitative", "scale": {"domain": [0, 0.3], "nice": false, "zero": false}, "axis": null}, "order": {"value": null}}},
      {"data": {"name": "HF"}, "transform": [{"filter": "datum.k == 'k'"}], "mark": {"type": "line", "stroke": "#000000", "strokeWidth": 2.4, "clip": true},
       "encoding": {"x": {"field": "x", "type": "quantitative", "scale": {"domain": [65, 81.6], "nice": false, "zero": false}, "axis": {"orient": "top", "values": [70, 75], "labels": false, "title": null}},
                    "y": {"field": "y", "type": "quantitative", "scale": {"domain": [0, 0.3], "nice": false, "zero": false}, "axis": {"orient": "right", "values": [0.1, 0.2], "labels": false, "title": null}},
                    "detail": {"field": "id", "type": "nominal"}, "order": {"value": null}}}
    ]
  },
  {
    "width": 251.5, "height": 252,
    "layer": [
      {"data": {"name": "F1"}, "mark": {"type": "line", "strokeWidth": 3, "interpolate": "monotone", "clip": true},
       "encoding": {"x": {"field": "x", "type": "quantitative", "scale": {"domain": [0, 0.3], "nice": false, "zero": false}, "axis": {"orient": "bottom", "values": [0.1, 0.2], "labels": false, "title": null}},
                    "y": {"field": "y", "type": "quantitative", "scale": {"domain": [0, 1.1], "nice": false, "zero": false}, "axis": null},
                    "stroke": {"field": "s", "type": "nominal", "scale": {"domain": ["b", "r", "k"], "range": ["#1e90ff", "#dc143c", "#000000"]}, "legend": null},
                    "order": {"value": null}}}
    ]
  },
  {"width": 251.5, "height": 252, "data": {"name": "leg"}, "mark": {"type": "point", "opacity": 0}, "view": {"stroke": null}},
  {"width": 251.5, "height": 252, "data": {"name": "leg"}, "mark": {"type": "point", "opacity": 0}, "view": {"stroke": null}},
  {
    "width": 251.5, "height": 252,
    "resolve": {"axis": {"x": "independent", "y": "independent"}},
    "layer": [
      {"data": {"name": "sh0es"}, "mark": {"type": "rect"},
       "encoding": {"x": {"field": "lo", "type": "quantitative", "scale": {"domain": [65, 81.6], "nice": false, "zero": false}, "axis": null}, "x2": {"field": "hi"},
                    "fill": {"field": "lev", "type": "nominal", "scale": {"domain": ["2s", "1s"], "range": ["#efefef", "#dcdcdc"]}, "legend": null}}},
      {"data": {"name": "HT"}, "transform": [{"filter": "datum.k == 'bo'"}], "mark": {"type": "line", "fill": "#a6d0f8", "strokeWidth": 0, "clip": true},
       "encoding": {"x": {"field": "x", "type": "quantitative", "scale": {"domain": [65, 81.6], "nice": false, "zero": false}, "axis": {"orient": "bottom", "values": [70, 75], "labels": false, "title": null}},
                    "y": {"field": "y", "type": "quantitative", "scale": {"domain": [0, 3.02], "nice": false, "zero": false}, "axis": {"orient": "left", "values": [1, 2], "title": "θᵢ", "titleFontStyle": "italic"}},
                    "order": {"value": null}}},
      {"data": {"name": "HT"}, "transform": [{"filter": "datum.k == 'bi'"}], "mark": {"type": "line", "fill": "#2a90f5", "strokeWidth": 0, "clip": true},
       "encoding": {"x": {"field": "x", "type": "quantitative", "scale": {"domain": [65, 81.6], "nice": false, "zero": false}, "axis": null},
                    "y": {"field": "y", "type": "quantitative", "scale": {"domain": [0, 3.02], "nice": false, "zero": false}, "axis": null}, "order": {"value": null}}},
      {"data": {"name": "HT"}, "transform": [{"filter": "datum.k == 'ro'"}], "mark": {"type": "line", "fill": "#dc143c", "fillOpacity": 0.3, "strokeWidth": 0, "clip": true},
       "encoding": {"x": {"field": "x", "type": "quantitative", "scale": {"domain": [65, 81.6], "nice": false, "zero": false}, "axis": null},
                    "y": {"field": "y", "type": "quantitative", "scale": {"domain": [0, 3.02], "nice": false, "zero": false}, "axis": null}, "order": {"value": null}}},
      {"data": {"name": "HT"}, "transform": [{"filter": "datum.k == 'ri'"}], "mark": {"type": "line", "fill": "#dc143c", "fillOpacity": 0.5, "strokeWidth": 0, "clip": true},
       "encoding": {"x": {"field": "x", "type": "quantitative", "scale": {"domain": [65, 81.6], "nice": false, "zero": false}, "axis": null},
                    "y": {"field": "y", "type": "quantitative", "scale": {"domain": [0, 3.02], "nice": false, "zero": false}, "axis": null}, "order": {"value": null}}},
      {"data": {"name": "HT"}, "transform": [{"filter": "datum.k == 'k'"}], "mark": {"type": "line", "stroke": "#000000", "strokeWidth": 2.4, "clip": true},
       "encoding": {"x": {"field": "x", "type": "quantitative", "scale": {"domain": [65, 81.6], "nice": false, "zero": false}, "axis": {"orient": "top", "values": [70, 75], "labels": false, "title": null}},
                    "y": {"field": "y", "type": "quantitative", "scale": {"domain": [0, 3.02], "nice": false, "zero": false}, "axis": {"orient": "right", "values": [1, 2], "labels": false, "title": null}},
                    "detail": {"field": "id", "type": "nominal"}, "order": {"value": null}}}
    ]
  },
  {
    "width": 251.5, "height": 252,
    "resolve": {"axis": {"x": "independent", "y": "independent"}},
    "layer": [
      {"data": {"name": "FT"}, "transform": [{"filter": "datum.k == 'bo'"}], "mark": {"type": "line", "fill": "#a6d0f8", "strokeWidth": 0, "clip": true},
       "encoding": {"x": {"field": "x", "type": "quantitative", "scale": {"domain": [0, 0.3], "nice": false, "zero": false}, "axis": {"orient": "bottom", "values": [0.1, 0.2], "labels": false, "title": null}},
                    "y": {"field": "y", "type": "quantitative", "scale": {"domain": [0, 3.02], "nice": false, "zero": false}, "axis": {"orient": "left", "values": [1, 2], "labels": false, "title": null}},
                    "order": {"value": null}}},
      {"data": {"name": "FT"}, "transform": [{"filter": "datum.k == 'bi'"}], "mark": {"type": "line", "fill": "#2a90f5", "strokeWidth": 0, "clip": true},
       "encoding": {"x": {"field": "x", "type": "quantitative", "scale": {"domain": [0, 0.3], "nice": false, "zero": false}, "axis": null},
                    "y": {"field": "y", "type": "quantitative", "scale": {"domain": [0, 3.02], "nice": false, "zero": false}, "axis": null}, "order": {"value": null}}},
      {"data": {"name": "FT"}, "transform": [{"filter": "datum.k == 'ro'"}], "mark": {"type": "line", "fill": "#dc143c", "fillOpacity": 0.3, "strokeWidth": 0, "clip": true},
       "encoding": {"x": {"field": "x", "type": "quantitative", "scale": {"domain": [0, 0.3], "nice": false, "zero": false}, "axis": null},
                    "y": {"field": "y", "type": "quantitative", "scale": {"domain": [0, 3.02], "nice": false, "zero": false}, "axis": null}, "order": {"value": null}}},
      {"data": {"name": "FT"}, "transform": [{"filter": "datum.k == 'ri'"}], "mark": {"type": "line", "fill": "#dc143c", "fillOpacity": 0.5, "strokeWidth": 0, "clip": true},
       "encoding": {"x": {"field": "x", "type": "quantitative", "scale": {"domain": [0, 0.3], "nice": false, "zero": false}, "axis": null},
                    "y": {"field": "y", "type": "quantitative", "scale": {"domain": [0, 3.02], "nice": false, "zero": false}, "axis": null}, "order": {"value": null}}},
      {"data": {"name": "FT"}, "transform": [{"filter": "datum.k == 'k'"}], "mark": {"type": "line", "stroke": "#000000", "strokeWidth": 2.4, "clip": true},
       "encoding": {"x": {"field": "x", "type": "quantitative", "scale": {"domain": [0, 0.3], "nice": false, "zero": false}, "axis": {"orient": "top", "values": [0.1, 0.2], "labels": false, "title": null}},
                    "y": {"field": "y", "type": "quantitative", "scale": {"domain": [0, 3.02], "nice": false, "zero": false}, "axis": {"orient": "right", "values": [1, 2], "labels": false, "title": null}},
                    "detail": {"field": "id", "type": "nominal"}, "order": {"value": null}}}
    ]
  },
  {
    "width": 251.5, "height": 252,
    "layer": [
      {"data": {"name": "T1"}, "mark": {"type": "line", "strokeWidth": 3, "interpolate": "monotone", "clip": true},
       "encoding": {"x": {"field": "x", "type": "quantitative", "scale": {"domain": [0, 3.02], "nice": false, "zero": false}, "axis": {"orient": "bottom", "values": [1, 2], "labels": false, "title": null}},
                    "y": {"field": "y", "type": "quantitative", "scale": {"domain": [0, 1.1], "nice": false, "zero": false}, "axis": null},
                    "stroke": {"field": "s", "type": "nominal", "scale": {"domain": ["b", "r", "k"], "range": ["#1e90ff", "#dc143c", "#000000"]}, "legend": null},
                    "order": {"value": null}}}
    ]
  },
  {"width": 251.5, "height": 252, "data": {"name": "leg"}, "mark": {"type": "point", "opacity": 0}, "view": {"stroke": null}},
  {
    "width": 251.5, "height": 252,
    "resolve": {"axis": {"x": "independent", "y": "independent"}},
    "layer": [
      {"data": {"name": "sh0es"}, "mark": {"type": "rect"},
       "encoding": {"x": {"field": "lo", "type": "quantitative", "scale": {"domain": [65, 81.6], "nice": false, "zero": false}, "axis": null}, "x2": {"field": "hi"},
                    "fill": {"field": "lev", "type": "nominal", "scale": {"domain": ["2s", "1s"], "range": ["#efefef", "#dcdcdc"]}, "legend": null}}},
      {"data": {"name": "HL"}, "transform": [{"filter": "datum.k == 'bo'"}], "mark": {"type": "line", "fill": "#a6d0f8", "strokeWidth": 0, "clip": true},
       "encoding": {"x": {"field": "x", "type": "quantitative", "scale": {"domain": [65, 81.6], "nice": false, "zero": false}, "axis": {"orient": "bottom", "values": [70, 75], "title": "H₀", "titleFontStyle": "italic"}},
                    "y": {"field": "y", "type": "quantitative", "scale": {"domain": [3, 4], "nice": false, "zero": false}, "axis": {"orient": "left", "values": [3.2, 3.5, 3.8], "title": "log₁₀(zc)"}},
                    "order": {"value": null}}},
      {"data": {"name": "HL"}, "transform": [{"filter": "datum.k == 'bi'"}], "mark": {"type": "line", "fill": "#2a90f5", "strokeWidth": 0, "clip": true},
       "encoding": {"x": {"field": "x", "type": "quantitative", "scale": {"domain": [65, 81.6], "nice": false, "zero": false}, "axis": null},
                    "y": {"field": "y", "type": "quantitative", "scale": {"domain": [3, 4], "nice": false, "zero": false}, "axis": null}, "order": {"value": null}}},
      {"data": {"name": "HL"}, "transform": [{"filter": "datum.k == 'ro'"}], "mark": {"type": "line", "fill": "#dc143c", "fillOpacity": 0.3, "strokeWidth": 0, "clip": true},
       "encoding": {"x": {"field": "x", "type": "quantitative", "scale": {"domain": [65, 81.6], "nice": false, "zero": false}, "axis": null},
                    "y": {"field": "y", "type": "quantitative", "scale": {"domain": [3, 4], "nice": false, "zero": false}, "axis": null}, "order": {"value": null}}},
      {"data": {"name": "HL"}, "transform": [{"filter": "datum.k == 'ri'"}], "mark": {"type": "line", "fill": "#dc143c", "fillOpacity": 0.5, "strokeWidth": 0, "clip": true},
       "encoding": {"x": {"field": "x", "type": "quantitative", "scale": {"domain": [65, 81.6], "nice": false, "zero": false}, "axis": null},
                    "y": {"field": "y", "type": "quantitative", "scale": {"domain": [3, 4], "nice": false, "zero": false}, "axis": null}, "order": {"value": null}}},
      {"data": {"name": "HL"}, "transform": [{"filter": "datum.k == 'k'"}], "mark": {"type": "line", "stroke": "#000000", "strokeWidth": 2.4, "clip": true},
       "encoding": {"x": {"field": "x", "type": "quantitative", "scale": {"domain": [65, 81.6], "nice": false, "zero": false}, "axis": {"orient": "top", "values": [70, 75], "labels": false, "title": null}},
                    "y": {"field": "y", "type": "quantitative", "scale": {"domain": [3, 4], "nice": false, "zero": false}, "axis": {"orient": "right", "values": [3.2, 3.5, 3.8], "labels": false, "title": null}},
                    "detail": {"field": "id", "type": "nominal"}, "order": {"value": null}}}
    ]
  },
  {
    "width": 251.5, "height": 252,
    "resolve": {"axis": {"x": "independent", "y": "independent"}},
    "layer": [
      {"data": {"name": "FL"}, "transform": [{"filter": "datum.k == 'bo'"}], "mark": {"type": "line", "fill": "#a6d0f8", "strokeWidth": 0, "clip": true},
       "encoding": {"x": {"field": "x", "type": "quantitative", "scale": {"domain": [0, 0.3], "nice": false, "zero": false}, "axis": {"orient": "bottom", "values": [0.1, 0.2], "title": "fEDE(zc)"}},
                    "y": {"field": "y", "type": "quantitative", "scale": {"domain": [3, 4], "nice": false, "zero": false}, "axis": {"orient": "left", "values": [3.2, 3.5, 3.8], "labels": false, "title": null}},
                    "order": {"value": null}}},
      {"data": {"name": "FL"}, "transform": [{"filter": "datum.k == 'bi'"}], "mark": {"type": "line", "fill": "#2a90f5", "strokeWidth": 0, "clip": true},
       "encoding": {"x": {"field": "x", "type": "quantitative", "scale": {"domain": [0, 0.3], "nice": false, "zero": false}, "axis": null},
                    "y": {"field": "y", "type": "quantitative", "scale": {"domain": [3, 4], "nice": false, "zero": false}, "axis": null}, "order": {"value": null}}},
      {"data": {"name": "FL"}, "transform": [{"filter": "datum.k == 'ro'"}], "mark": {"type": "line", "fill": "#dc143c", "fillOpacity": 0.3, "strokeWidth": 0, "clip": true},
       "encoding": {"x": {"field": "x", "type": "quantitative", "scale": {"domain": [0, 0.3], "nice": false, "zero": false}, "axis": null},
                    "y": {"field": "y", "type": "quantitative", "scale": {"domain": [3, 4], "nice": false, "zero": false}, "axis": null}, "order": {"value": null}}},
      {"data": {"name": "FL"}, "transform": [{"filter": "datum.k == 'ri'"}], "mark": {"type": "line", "fill": "#dc143c", "fillOpacity": 0.5, "strokeWidth": 0, "clip": true},
       "encoding": {"x": {"field": "x", "type": "quantitative", "scale": {"domain": [0, 0.3], "nice": false, "zero": false}, "axis": null},
                    "y": {"field": "y", "type": "quantitative", "scale": {"domain": [3, 4], "nice": false, "zero": false}, "axis": null}, "order": {"value": null}}},
      {"data": {"name": "FL"}, "transform": [{"filter": "datum.k == 'k'"}], "mark": {"type": "line", "stroke": "#000000", "strokeWidth": 2.4, "clip": true},
       "encoding": {"x": {"field": "x", "type": "quantitative", "scale": {"domain": [0, 0.3], "nice": false, "zero": false}, "axis": {"orient": "top", "values": [0.1, 0.2], "labels": false, "title": null}},
                    "y": {"field": "y", "type": "quantitative", "scale": {"domain": [3, 4], "nice": false, "zero": false}, "axis": {"orient": "right", "values": [3.2, 3.5, 3.8], "labels": false, "title": null}},
                    "detail": {"field": "id", "type": "nominal"}, "order": {"value": null}}}
    ]
  },
  {
    "width": 251.5, "height": 252,
    "resolve": {"axis": {"x": "independent", "y": "independent"}},
    "layer": [
      {"data": {"name": "TL"}, "transform": [{"filter": "datum.k == 'bo'"}], "mark": {"type": "line", "fill": "#a6d0f8", "strokeWidth": 0, "clip": true},
       "encoding": {"x": {"field": "x", "type": "quantitative", "scale": {"domain": [0, 3.02], "nice": false, "zero": false}, "axis": {"orient": "bottom", "values": [1, 2], "title": "θᵢ", "titleFontStyle": "italic"}},
                    "y": {"field": "y", "type": "quantitative", "scale": {"domain": [3, 4], "nice": false, "zero": false}, "axis": {"orient": "left", "values": [3.2, 3.5, 3.8], "labels": false, "title": null}},
                    "order": {"value": null}}},
      {"data": {"name": "TL"}, "transform": [{"filter": "datum.k == 'bi'"}], "mark": {"type": "line", "fill": "#2a90f5", "strokeWidth": 0, "clip": true},
       "encoding": {"x": {"field": "x", "type": "quantitative", "scale": {"domain": [0, 3.02], "nice": false, "zero": false}, "axis": null},
                    "y": {"field": "y", "type": "quantitative", "scale": {"domain": [3, 4], "nice": false, "zero": false}, "axis": null}, "order": {"value": null}}},
      {"data": {"name": "TL"}, "transform": [{"filter": "datum.k == 'ro'"}], "mark": {"type": "line", "fill": "#dc143c", "fillOpacity": 0.3, "strokeWidth": 0, "clip": true},
       "encoding": {"x": {"field": "x", "type": "quantitative", "scale": {"domain": [0, 3.02], "nice": false, "zero": false}, "axis": null},
                    "y": {"field": "y", "type": "quantitative", "scale": {"domain": [3, 4], "nice": false, "zero": false}, "axis": null}, "order": {"value": null}}},
      {"data": {"name": "TL"}, "transform": [{"filter": "datum.k == 'ri'"}], "mark": {"type": "line", "fill": "#dc143c", "fillOpacity": 0.5, "strokeWidth": 0, "clip": true},
       "encoding": {"x": {"field": "x", "type": "quantitative", "scale": {"domain": [0, 3.02], "nice": false, "zero": false}, "axis": null},
                    "y": {"field": "y", "type": "quantitative", "scale": {"domain": [3, 4], "nice": false, "zero": false}, "axis": null}, "order": {"value": null}}},
      {"data": {"name": "TL"}, "transform": [{"filter": "datum.k == 'k'"}], "mark": {"type": "line", "stroke": "#000000", "strokeWidth": 2.4, "clip": true},
       "encoding": {"x": {"field": "x", "type": "quantitative", "scale": {"domain": [0, 3.02], "nice": false, "zero": false}, "axis": {"orient": "top", "values": [1, 2], "labels": false, "title": null}},
                    "y": {"field": "y", "type": "quantitative", "scale": {"domain": [3, 4], "nice": false, "zero": false}, "axis": {"orient": "right", "values": [3.2, 3.5, 3.8], "labels": false, "title": null}},
                    "detail": {"field": "id", "type": "nominal"}, "order": {"value": null}}}
    ]
  },
  {
    "width": 251.5, "height": 252,
    "layer": [
      {"data": {"name": "L1"}, "mark": {"type": "line", "strokeWidth": 3, "interpolate": "monotone", "clip": true},
       "encoding": {"x": {"field": "x", "type": "quantitative", "scale": {"domain": [3, 4], "nice": false, "zero": false}, "axis": {"orient": "bottom", "values": [3.3, 3.7], "title": "log₁₀(zc)"}},
                    "y": {"field": "y", "type": "quantitative", "scale": {"domain": [0, 1.1], "nice": false, "zero": false}, "axis": null},
                    "stroke": {"field": "s", "type": "nominal", "scale": {"domain": ["b", "r", "k"], "range": ["#1e90ff", "#dc143c", "#000000"]}, "legend": null},
                    "order": {"value": null}}}
    ]
  }
]
}
